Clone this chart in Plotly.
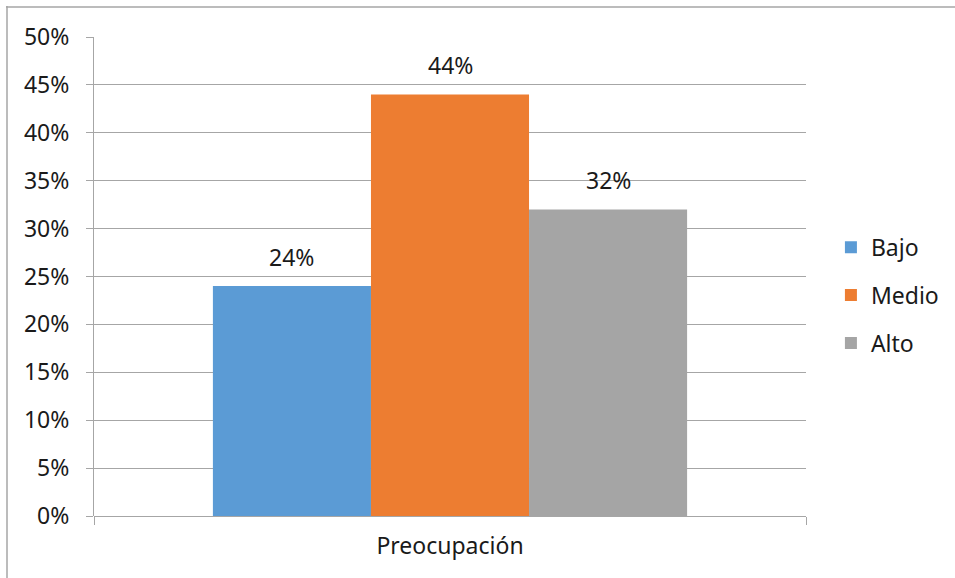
import plotly.graph_objects as go

categories = ["Preocupación"]
series_names = ["Bajo", "Medio", "Alto"]
series_values = [[0.24], [0.44], [0.32]]
series_colors = ["#5B9BD5", "#ED7D31", "#A5A5A5"]
y_ticks = [i * 0.05 for i in range(11)]
y_tick_labels = [f"{i*5}%" for i in range(11)]

FONT = "Noto Sans"
FS = 23
TXT = "#1a1a1a"
W, H = 955, 578
L, R, T, B = 94, 149, 37, 62
PW, PH = W - L - R, H - T - B

fig = go.Figure()
for i, (name, vals, col) in enumerate(zip(series_names, series_values, series_colors)):
    fig.add_trace(go.Bar(
        x=categories, y=vals, name=name, marker=dict(color=col, line=dict(width=0)),
        offsetgroup=str(i), legendgroup=name,
    ))

# data labels above each bar
n = len(series_names)
bar_w = (1 - 0.334) / n
annotations = []
for i, (name, vals) in enumerate(zip(series_names, series_values)):
    for j, v in enumerate(vals):
        xc = j - (1 - 0.334) / 2 + bar_w * (i + 0.5)
        annotations.append(dict(x=xc, y=v, xref="x", yref="y", text=f"{round(v*100)}%",
                                showarrow=False, yanchor="bottom", yshift=11,
                                font=dict(family=FONT, size=FS, color=TXT)))

fig.update_layout(
    width=W, height=H, margin=dict(l=L, r=R, t=T, b=B, autoexpand=False),
    paper_bgcolor="white", plot_bgcolor="white",
    barmode="group", bargap=0.334, bargroupgap=0,
    font=dict(family=FONT, size=FS, color=TXT),
    showlegend=True,
    legend=dict(x=1.035, xanchor="left", y=0.461, yanchor="middle",
                font=dict(family=FONT, size=FS, color=TXT),
                tracegroupgap=15, bgcolor="rgba(0,0,0,0)"),
    xaxis=dict(range=[-0.5, 0.5], showgrid=False, showline=False,
               ticks="outside", tickson="boundaries", ticklen=8, tickcolor="#A6A6A6",
               tickwidth=1, tickfont=dict(family=FONT, size=FS, color=TXT),
               ticklabelstandoff=14),
    yaxis=dict(range=[0, 0.5], tickvals=y_ticks, ticktext=y_tick_labels,
               showgrid=True, gridcolor="#A6A6A6", gridwidth=1,
               showline=True, linecolor="#A6A6A6", linewidth=1,
               ticks="outside", ticklen=7, tickcolor="#A6A6A6",
               zeroline=True, zerolinecolor="#A6A6A6", zerolinewidth=1,
               tickfont=dict(family=FONT, size=FS, color=TXT),
               ticklabelstandoff=12),
    annotations=annotations,
    shapes=[
        dict(type="line", xref="paper", yref="paper", layer="above",
             x0=(6 - L) / PW, x1=(W + 10 - L) / PW,
             y0=(H - B - 7) / PH, y1=(H - B - 7) / PH,
             line=dict(color="#A6A6A6", width=1.5)),
        dict(type="line", xref="paper", yref="paper", layer="above",
             x0=(7 - L) / PW, x1=(7 - L) / PW,
             y0=(H - B - 6) / PH, y1=(-B - 10) / PH,
             line=dict(color="#A6A6A6", width=1.5)),
    ],
)

fig.write_html("out.html", config={"displayModeBar": False})
